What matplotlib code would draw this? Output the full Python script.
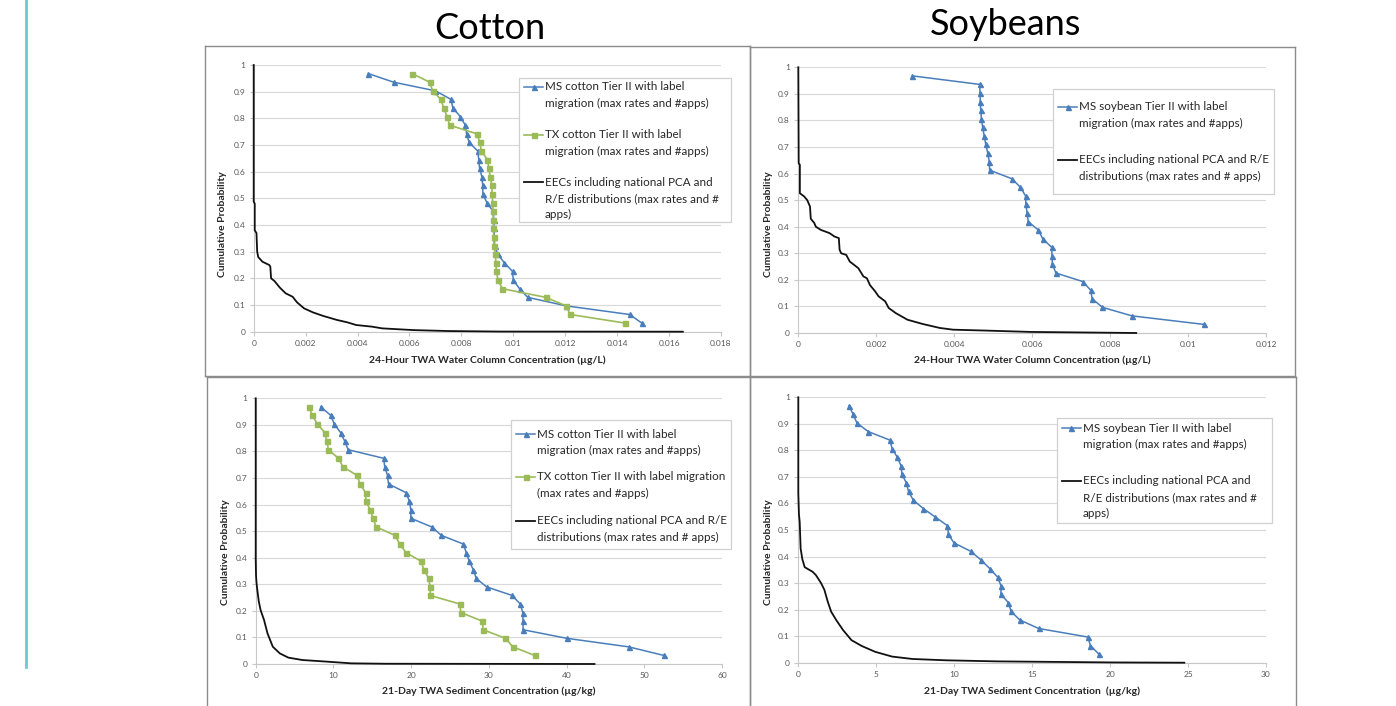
import numpy as np
import matplotlib
matplotlib.use("Agg")
import matplotlib.pyplot as plt
from matplotlib.lines import Line2D
from matplotlib.patches import Rectangle
from matplotlib.ticker import FuncFormatter

W, H = 1396, 706
plt.rcParams['font.family'] = ['Lato', 'DejaVu Sans']

# cumulative probability of the Tier II points (shared by every Tier II series)
prob = [0.9677, 0.9355, 0.9032, 0.8710, 0.8387, 0.8065, 0.7742, 0.7419, 0.7097, 0.6774,
        0.6452, 0.6129, 0.5806, 0.5484, 0.5161, 0.4839, 0.4516, 0.4194, 0.3871, 0.3548,
        0.3226, 0.2903, 0.2581, 0.2258, 0.1935, 0.1613, 0.1290, 0.0968, 0.0645, 0.0323]

# 24-h TWA water column (ug/L)
ms_cotton_wc = [0.00442, 0.00539, 0.0070, 0.0076, 0.00767, 0.00796, 0.00815, 0.0082, 0.0083, 0.00863,
                0.00867, 0.0087, 0.00879, 0.00882, 0.00883, 0.00898, 0.00922, 0.00925, 0.00925, 0.00927,
                0.00928, 0.0094, 0.00966, 0.00997, 0.0100, 0.01024, 0.01055, 0.01204, 0.01448, 0.01495]
tx_cotton_wc = [0.0061, 0.00678, 0.00689, 0.00721, 0.00732, 0.00745, 0.00755, 0.0086, 0.00871, 0.00877,
                0.0090, 0.00906, 0.00911, 0.00918, 0.00918, 0.00921, 0.00922, 0.00923, 0.00923, 0.00925,
                0.00926, 0.00931, 0.00933, 0.00935, 0.00941, 0.00958, 0.01124, 0.01204, 0.01219, 0.01431]
eec_cotton_wc_x = [0, 0, 0.00004, 0.00004, 0.000107, 0.000134, 0.000174, 0.000335, 0.0006, 0.00064,
                   0.00067, 0.0008, 0.001, 0.00123, 0.0015, 0.00167, 0.00194, 0.00228, 0.00268, 0.00321,
                   0.00361, 0.00395, 0.00455, 0.00495, 0.00616, 0.0075, 0.0095, 0.01653]
eec_cotton_wc_y = [1, 0.4875, 0.48, 0.38, 0.37, 0.30, 0.28, 0.2625, 0.25, 0.244,
                   0.20, 0.19, 0.166, 0.144, 0.131, 0.11, 0.0875, 0.0725, 0.059, 0.044,
                   0.035, 0.025, 0.019, 0.0125, 0.006, 0.0025, 0.0005, 0]

ms_soy_wc = [0.00293, 0.00466, 0.00466, 0.00467, 0.00468, 0.0047, 0.00473, 0.00477, 0.00481, 0.00486,
             0.0049, 0.00491, 0.00548, 0.0057, 0.00583, 0.00584, 0.00587, 0.0059, 0.00616, 0.00627,
             0.0065, 0.00651, 0.00652, 0.00661, 0.0073, 0.0075, 0.00754, 0.0078, 0.00856, 0.01041]
eec_soy_wc_x = [0, 0.00001, 0.00004, 0.00004, 0.00015, 0.00023, 0.0003, 0.00032, 0.00041, 0.00045,
                0.00058, 0.0008, 0.00093, 0.00104, 0.00106, 0.0011, 0.00123, 0.00132, 0.00154, 0.00167,
                0.00176, 0.00184, 0.00197, 0.00206, 0.00223, 0.00232, 0.0025, 0.0028, 0.00319, 0.00363,
                0.00397, 0.00484, 0.00597, 0.00867]
eec_soy_wc_y = [1, 0.639, 0.633, 0.526, 0.514, 0.50, 0.476, 0.43, 0.414, 0.40,
                0.388, 0.376, 0.363, 0.357, 0.313, 0.30, 0.294, 0.269, 0.244, 0.213,
                0.206, 0.18, 0.157, 0.138, 0.119, 0.094, 0.075, 0.05, 0.034, 0.019,
                0.0125, 0.009, 0.004, 0]

# 21-day TWA sediment (ug/kg)
ms_cotton_sed = [8.37, 9.66, 10.11, 10.92, 11.45, 11.9, 16.47, 16.6, 16.96, 17.09,
                 19.33, 19.78, 19.96, 19.96, 22.64, 23.9, 26.7, 27.1, 27.47, 28.0,
                 28.37, 29.7, 32.98, 34.05, 34.36, 34.4, 34.4, 40.0, 48.0, 52.5]
tx_cotton_sed = [6.85, 7.29, 7.92, 8.9, 9.17, 9.35, 10.65, 11.23, 13.06, 13.42,
                 14.14, 14.18, 14.72, 15.12, 15.48, 17.94, 18.52, 19.33, 21.25, 21.66,
                 22.24, 22.46, 22.46, 26.26, 26.4, 29.17, 29.26, 32.12, 33.1, 35.88]
eec_cotton_sed_x = [0, 0, 0.04, 0.09, 0.18, 0.4, 0.63, 1.07, 1.52, 2.2, 3.1, 4.2, 6.0, 9.1, 12.3, 16.7, 43.6]
eec_cotton_sed_y = [1, 0.40, 0.335, 0.31, 0.285, 0.235, 0.203, 0.166, 0.115, 0.065, 0.04, 0.024, 0.015,
                    0.009, 0.0025, 0.001, 0]

ms_soy_sed = [3.26, 3.52, 3.76, 4.48, 5.87, 6.02, 6.35, 6.59, 6.65, 6.93,
              7.07, 7.37, 8.02, 8.8, 9.57, 9.63, 9.98, 11.07, 11.72, 12.28,
              12.78, 13.0, 13.0, 13.48, 13.65, 14.2, 15.41, 18.57, 18.74, 19.28]
eec_soy_sed_x = [0, 0, 0.04, 0.09, 0.15, 0.26, 0.41, 0.7, 0.91, 1.13, 1.46, 1.67, 1.89, 2.11, 2.43,
                 2.87, 3.41, 4.07, 4.93, 6.02, 7.33, 9.5, 12.76, 20.15, 24.76]
eec_soy_sed_y = [1, 0.64, 0.56, 0.53, 0.43, 0.39, 0.36, 0.35, 0.343, 0.33, 0.30, 0.275, 0.23, 0.192, 0.161,
                 0.123, 0.085, 0.063, 0.041, 0.023, 0.014, 0.009, 0.005, 0.001, 0]

blue, green, black = '#4A7EBB', '#9BBB59', '#111111'
ms_style = dict(color=blue, lw=1.1, marker='^', ms=3.6, clip_on=False, zorder=3)
tx_style = dict(color=green, lw=1.2, marker='s', ms=3.6, clip_on=False, zorder=3)
eec_style = dict(color=black, lw=1.3, clip_on=False, zorder=3)

fig = plt.figure(figsize=(W / 100, H / 100), dpi=100)


def fx(x):
    return x / W


def fy(y):
    return 1 - y / H


def add_panel(left, top, right, bottom, xmax, xstep):
    ax = fig.add_axes([fx(left), fy(bottom), fx(right - left), (bottom - top) / H])
    ax.set_xlim(0, xmax)
    ax.set_ylim(0, 1)
    ax.set_xticks(np.round(np.arange(0, xmax + xstep / 2, xstep), 6))
    ax.set_yticks(np.round(np.arange(0, 1.05, 0.1), 2))
    fmt = FuncFormatter(lambda v, p: f"{round(v, 6):g}")
    ax.xaxis.set_major_formatter(fmt)
    ax.yaxis.set_major_formatter(fmt)
    ax.grid(axis='y', color='#D9D9D9', lw=0.8)
    ax.set_axisbelow(True)
    for s in ['top', 'right']:
        ax.spines[s].set_visible(False)
    for s in ['bottom', 'left']:
        ax.spines[s].set_color('#C8C8C8')
        ax.spines[s].set_linewidth(0.8)
    ax.tick_params(direction='out', length=3, width=0.8, color='#C8C8C8',
                   labelsize=6, labelcolor='#595959', pad=3)
    ax.patch.set_alpha(0)
    return ax


def frame(left, top, right, bottom):
    for xs, ys in [([left, right], [top, top]), ([left, left], [top, bottom]), ([right, right], [top, bottom]),
                   ([left, right], [bottom, bottom])]:
        fig.add_artist(Line2D([fx(v) for v in xs], [fy(v) for v in ys], color='#8C8C8C', lw=1.0))


def legend(box, entries):
    left, top, right, bottom = box
    fig.add_artist(Rectangle((fx(left), fy(bottom)), fx(right - left), (bottom - top) / H,
                             facecolor='white', edgecolor='#D0D0D0', lw=0.9, zorder=5))
    for y0, style, lines in entries:
        fig.add_artist(Line2D([fx(left + 5), fx(left + 24)], [fy(y0)] * 2, color=style['color'],
                              lw=style['lw'], zorder=6))
        if 'marker' in style:
            fig.add_artist(Line2D([fx(left + 14.5)], [fy(y0)], color=style['color'], lw=0,
                                  marker=style['marker'], ms=style['ms'], zorder=7))
        for i, txt in enumerate(lines):
            fig.text(fx(left + 26), fy(y0 + i * 16.3), txt, fontsize=8.4, color='#262626',
                     va='center', ha='left', zorder=7)


def labels(ax_x, ax_y, xlabel, ylab_x, ylab_y):
    fig.text(fx(ax_x), fy(ax_y), xlabel, fontsize=7.5, fontweight='bold', ha='center', va='center',
             color='#262626')
    fig.text(fx(ylab_x), fy(ylab_y), 'Cumulative Probability', fontsize=7.5, fontweight='bold',
             rotation=90, ha='center', va='center', color='#262626')


# page decoration
fig.add_artist(Line2D([fx(25.7)] * 2, [1, fy(667)], color='#6ACBD2', lw=2))
fig.text(fx(490), fy(39), 'Cotton', fontsize=26, ha='center', va='baseline')
fig.text(fx(1006), fy(35), 'Soybeans', fontsize=26, ha='center', va='baseline')

frame(205, 45.5, 750, 375.5)
frame(750, 46.5, 1295, 375.5)
frame(207, 376.5, 750, 710)
frame(750, 376.5, 1296, 710)

# top left: cotton water column
ax1 = add_panel(253.7, 65, 721, 331.7, 0.018, 0.002)
ax1.plot(eec_cotton_wc_x, eec_cotton_wc_y, **eec_style)
ax1.plot(ms_cotton_wc, prob, **ms_style)
ax1.plot(tx_cotton_wc, prob, **tx_style)
labels(487, 360, '24-Hour TWA Water Column Concentration (µg/L)', 222.4, 223.7)
legend((519, 78.3, 730.6, 221.7), [
    (87, ms_style, ['MS cotton Tier II with label', 'migration (max rates and #apps)']),
    (135, tx_style, ['TX cotton Tier II with label', 'migration (max rates and #apps)']),
    (182.3, eec_style, ['EECs including national PCA and', 'R/E distributions (max rates and #', 'apps)']),
])

# top right: soybean water column
ax2 = add_panel(798.3, 67.3, 1266, 333, 0.012, 0.002)
ax2.plot(eec_soy_wc_x, eec_soy_wc_y, **eec_style)
ax2.plot(ms_soy_wc, prob, **ms_style)
labels(1032, 360.7, '24-Hour TWA Water Column Concentration (µg/L)', 768.6, 223.7)
legend((1053, 89, 1274, 194), [
    (106.7, ms_style, ['MS soybean Tier II with label', 'migration (max rates and #apps)']),
    (159.7, eec_style, ['EECs including national PCA and R/E', 'distributions (max rates and # apps)']),
])

# bottom left: cotton sediment
ax3 = add_panel(255.7, 398.3, 722, 664, 60, 10)
ax3.plot(eec_cotton_sed_x, eec_cotton_sed_y, **eec_style)
ax3.plot(ms_cotton_sed, prob, **ms_style)
ax3.plot(tx_cotton_sed, prob, **tx_style)
labels(489, 691.7, '21-Day TWA Sediment Concentration (µg/kg)', 225, 552.5)
legend((511, 420, 731, 549), [
    (434, ms_style, ['MS cotton Tier II with label', 'migration (max rates and #apps)']),
    (477, tx_style, ['TX cotton Tier II with label migration', '(max rates and #apps)']),
    (520.7, eec_style, ['EECs including national PCA and R/E', 'distributions (max rates and # apps)']),
])

# bottom right: soybean sediment
ax4 = add_panel(798.3, 397.3, 1266, 662.7, 30, 5)
ax4.plot(eec_soy_sed_x, eec_soy_sed_y, **eec_style)
ax4.plot(ms_soy_sed, prob, **ms_style)
labels(1032, 691, '21-Day TWA Sediment Concentration  (µg/kg)', 768.6, 552.5)
legend((1056.6, 417.7, 1271.6, 522.7), [
    (428.3, ms_style, ['MS soybean Tier II with label', 'migration (max rates and #apps)']),
    (481, eec_style, ['EECs including national PCA and', 'R/E distributions (max rates and #', 'apps)']),
])

fig.savefig('out.png', dpi=100)
